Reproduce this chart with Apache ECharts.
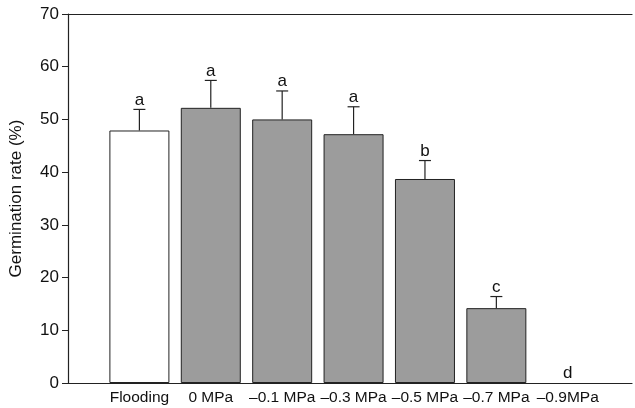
<!DOCTYPE html>
<html>
<head>
    <meta charset="utf-8"/>
    <title>Germination rate</title>
    <style>
        html, body { margin: 0; padding: 0; background: #fff; }
        #main { width: 635px; height: 408px; }
    </style>
</head>
<body>
<div id="main"></div>
<script src="https://cdn.jsdelivr.net/npm/echarts@6/dist/echarts.min.js"></script>
<script>
    // 数据
    var categories = ['Flooding', '0 MPa', '\u20130.1 MPa', '\u20130.3 MPa', '\u20130.5 MPa', '\u20130.7 MPa', '\u20130.9MPa'];
    var means = [47.9, 52.2, 50.0, 47.2, 38.7, 14.2, 0];
    var errors = [4.0, 5.2, 5.4, 5.2, 3.5, 2.2, 0];
    var letters = ['a', 'a', 'a', 'a', 'b', 'c', 'd'];
    var yMin = 0, yMax = 70, yStep = 10;

    var font = 'Liberation Sans, Arial, sans-serif';

    var barData = means.map(function (v, i) {
        return {
            value: [i, v],
            itemStyle: {
                color: i === 0 ? '#ffffff' : '#9c9c9c',
                borderWidth: v > 0 ? 1 : 0
            }
        };
    });
    var errData = means.map(function (v, i) {
        return [i, v, errors[i]];
    });

    var option = {
        backgroundColor: '#fff',
        animation: false,
        grid: { left: 66, right: 1, top: 14, bottom: 25 },
        xAxis: [
            {
                type: 'value',
                min: -1,
                max: 6.9,
                interval: 1,
                axisLine: { show: true, onZero: false, lineStyle: { color: '#222', width: 1.2 } },
                axisTick: { show: false },
                splitLine: { show: false },
                axisLabel: {
                    color: '#111',
                    fontFamily: font,
                    fontSize: 15.5,
                    margin: 7,
                    formatter: function (v) {
                        return Number.isInteger(v) && categories[v] ? categories[v] : '';
                    }
                }
            },
            {
                type: 'value',
                position: 'top',
                min: -1,
                max: 6.9,
                axisLine: { show: true, onZero: false, lineStyle: { color: '#222', width: 1.2 } },
                axisTick: { show: false },
                axisLabel: { show: false },
                splitLine: { show: false }
            }
        ],
        yAxis: {
            type: 'value',
            min: yMin,
            max: yMax,
            interval: yStep,
            name: 'Germination rate (%)',
            nameLocation: 'middle',
            nameGap: 43,
            nameTextStyle: { color: '#111', fontFamily: font, fontSize: 17 },
            axisLine: { show: true, onZero: false, lineStyle: { color: '#222', width: 1.2 } },
            axisTick: { show: true, inside: false, length: 6, lineStyle: { color: '#222' } },
            splitLine: { show: false },
            axisLabel: { color: '#111', fontFamily: font, fontSize: 17, margin: 9 }
        },
        series: [
            {
                type: 'bar',
                barWidth: 60,
                data: barData,
                itemStyle: { borderColor: '#222', borderWidth: 1 }
            },
            {
                type: 'custom',
                data: errData,
                z: 5,
                renderItem: function (params, api) {
                    var i = api.value(0);
                    var m = api.value(1);
                    var e = api.value(2);
                    var base = api.coord([i, m]);
                    var top = api.coord([i, m + e]);
                    var children = [];
                    if (e > 0) {
                        children.push({
                            type: 'line',
                            shape: { x1: base[0], y1: base[1], x2: top[0], y2: top[1] },
                            style: { stroke: '#222', lineWidth: 1.2 }
                        });
                        children.push({
                            type: 'line',
                            shape: { x1: top[0] - 6, y1: top[1], x2: top[0] + 6, y2: top[1] },
                            style: { stroke: '#222', lineWidth: 1.2 }
                        });
                    }
                    children.push({
                        type: 'text',
                        style: {
                            text: letters[params.dataIndex],
                            x: top[0],
                            y: top[1] - 1,
                            textAlign: 'center',
                            textVerticalAlign: 'bottom',
                            fontFamily: font,
                            fontSize: 17,
                            fill: '#111'
                        }
                    });
                    return { type: 'group', children: children };
                }
            }
        ]
    };

    var myChart = echarts.init(document.getElementById('main'));
    myChart.setOption(option);
</script>
</body>
</html>
